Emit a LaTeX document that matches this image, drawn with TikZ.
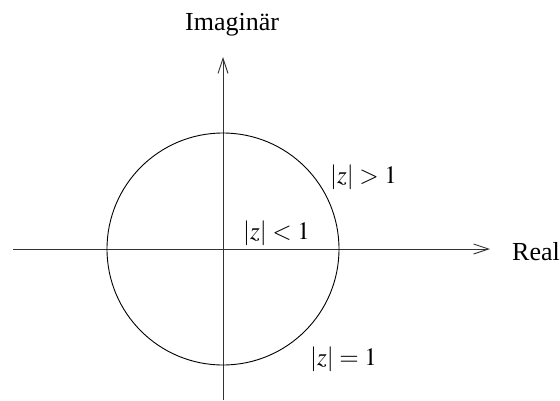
\documentclass[tikz,border=0pt]{standalone}
\usepackage{mathptmx}
\usepackage[no-math]{fontspec}
\setmainfont{Liberation Serif}
\usetikzlibrary{arrows.meta}
\begin{document}
\begin{tikzpicture}[x=1pt,y=-1pt,
  axis/.style={line width=0.9pt,draw=black!80,-{Straight Barb[length=15pt,width=10pt,line width=0.9pt]}},
  lbl/.style={inner sep=0pt,anchor=base west,font=\fontsize{25}{30}\selectfont},
  word/.style={lbl,font=\fontsize{26}{31}\selectfont}]
\useasboundingbox (0,0) rectangle (560,400);
\coordinate (c) at (223,249);
\coordinate (xl) at (13,249);
\coordinate (xr) at (490,249);
\coordinate (yb) at (223,400);
\coordinate (yt) at (223,57);
\draw[axis] (xl) -- (xr);
\draw[axis] (yb) -- (yt);
\draw[line width=0.9pt] (c) circle[radius=116];
\node[word] (im) at (185,30) {Imaginär};
\node[word] (re) at (512,260) {Real};
\node[lbl] (gt) at (330,183) {$|z|>1$};
\node[lbl] (lt) at (243,239) {$|z|<1$};
\node[lbl] (eq) at (310,365) {$|z|=1$};
\end{tikzpicture}
\end{document}
